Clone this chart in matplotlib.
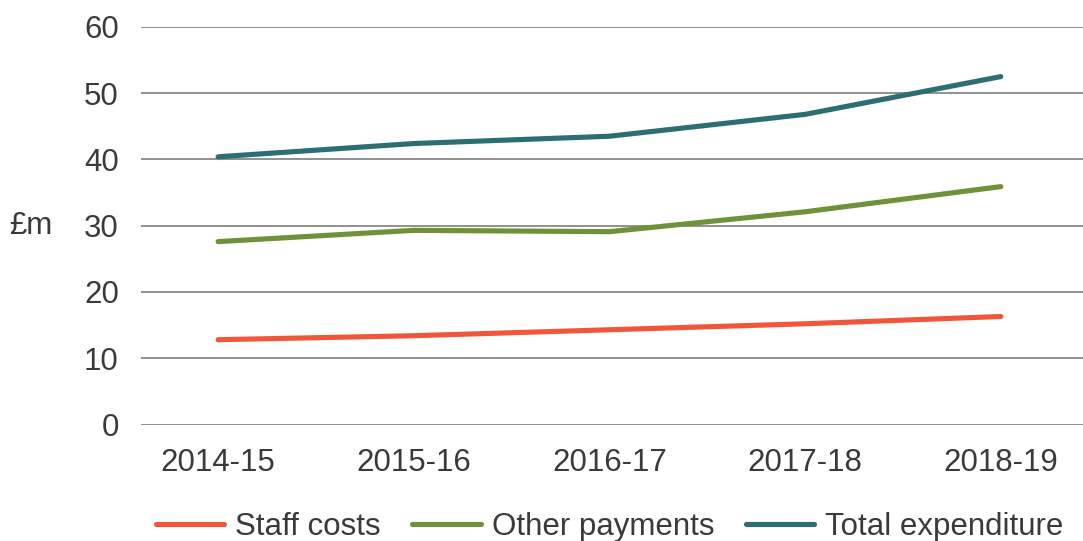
import matplotlib.pyplot as plt

plt.rcParams['font.family'] = ['Liberation Sans', 'DejaVu Sans']

years = ['2014-15', '2015-16', '2016-17', '2017-18', '2018-19']
staff_costs = [12.8, 13.4, 14.3, 15.2, 16.3]
other_payments = [27.6, 29.3, 29.1, 32.1, 35.9]
total_expenditure = [40.4, 42.4, 43.5, 46.8, 52.5]

text_col = '#3a3a3a'
fs = 22.5

fig = plt.figure(figsize=(10.83, 5.41), dpi=100)
ax = fig.add_axes([0.1302, 0.2153, 0.8698, 0.735])

x = list(range(len(years)))
ax.plot(x, staff_costs, color='#f0573a', lw=3.7, solid_capstyle='round', label='Staff costs')
ax.plot(x, other_payments, color='#6e9139', lw=3.7, solid_capstyle='round', label='Other payments')
ax.plot(x, total_expenditure, color='#2d6e73', lw=3.7, solid_capstyle='round', label='Total expenditure')

ax.set_ylim(0, 60)
ax.set_xlim(-0.394, 4.42)
ax.set_yticks(range(0, 61, 10))
ax.set_xticks(x)
ax.set_xticklabels(years)
ax.grid(axis='y', color='#888888', lw=1.3)
ax.set_axisbelow(True)
for s in ax.spines.values():
    s.set_visible(False)
ax.tick_params(axis='both', length=0, labelsize=fs, colors=text_col)
ax.tick_params(axis='y', pad=16)
ax.tick_params(axis='x', pad=17)

ax.set_ylabel('£m', rotation=0, fontsize=fs, color=text_col, ha='center', va='center')
ax.yaxis.set_label_coords(-0.117, 0.5)

fig.legend(loc='center', bbox_to_anchor=(0.563, 0.026), ncol=3, frameon=False,
           fontsize=fs, handlelength=2.2, handletextpad=0.35, columnspacing=1.0,
           borderpad=0, labelcolor=text_col)

fig.savefig('out.png', dpi=100)
